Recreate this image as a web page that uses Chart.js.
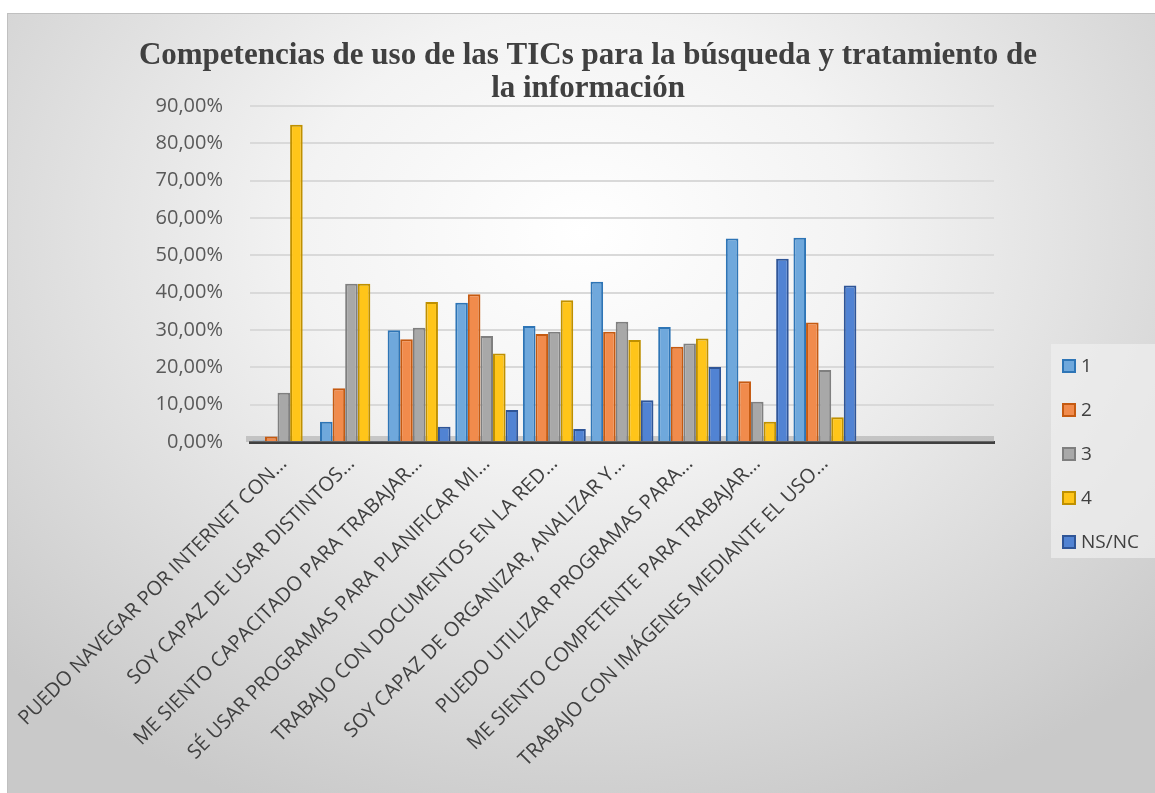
<!DOCTYPE html>
<html>
<head>
<meta charset="utf-8">
<script src="https://cdn.jsdelivr.net/npm/chart.js@4/dist/chart.umd.min.js"></script>
<style>
  html, body { margin: 0; padding: 0; background: #ffffff; width: 1155px; height: 793px; overflow: hidden; }
  #box {
    position: absolute; left: 7px; top: 13px; width: 1148px; height: 780px;
    border-left: 1px solid #c0c0c0; border-top: 1px solid #c0c0c0;
    background: radial-gradient(ellipse 70% 80% at 50% 28%, #ffffff 0%, #f3f3f3 35%, #d9d9d9 75%, #c9c9c9 100%);
  }
  canvas { position: absolute; left: 0; top: 0; }
</style>
</head>
<body>
<div id="box"><canvas id="c" width="1148" height="780"></canvas></div>
<script>
const titleLines = ["Competencias de uso de las TICs para la búsqueda y tratamiento de", "la información"];
const categories = [
  "PUEDO NAVEGAR POR INTERNET CON…",
  "SOY CAPAZ DE USAR DISTINTOS…",
  "ME SIENTO CAPACITADO PARA TRABAJAR…",
  "SÉ USAR PROGRAMAS PARA PLANIFICAR MI…",
  "TRABAJO CON DOCUMENTOS EN LA RED…",
  "SOY CAPAZ DE ORGANIZAR, ANALIZAR Y…",
  "PUEDO UTILIZAR PROGRAMAS PARA…",
  "ME SIENTO COMPETENTE PARA TRABAJAR…",
  "TRABAJO CON IMÁGENES MEDIANTE EL USO…",
  "",
  ""
];
const seriesNames = ["1", "2", "3", "4", "NS/NC"];
const values1    = [0.4, 5.4, 29.9, 37.3, 31.1, 42.9, 30.8, 54.5, 54.7, null, null];
const values2    = [1.5, 14.4, 27.5, 39.6, 28.9, 29.5, 25.5, 16.3, 32.0, null, null];
const values3    = [13.2, 42.4, 30.6, 28.4, 29.5, 32.2, 26.4, 10.8, 19.3, null, null];
const values4    = [85.0, 42.4, 37.5, 23.7, 38.0, 27.3, 27.7, 5.4, 6.6, null, null];
const valuesNSNC = [0.2, 0.2, 4.1, 8.6, 3.5, 11.2, 20.1, 49.1, 41.9, null, null];
const yTicks = [0, 10, 20, 30, 40, 50, 60, 70, 80, 90];

const fills   = ["#6fa8dc", "#f18b4c", "#a8a8a8", "#ffc519", "#5183d3"];
const borders = ["#2e75b6", "#c55a11", "#7f7f7f", "#bf9000", "#2f5597"];
const allValues = [values1, values2, values3, values4, valuesNSNC];

const fmt = v => v.toFixed(2).replace('.', ',') + '%';

const floorPlugin = {
  id: 'floor',
  beforeDatasetsDraw(chart) {
    const ctx = chart.ctx, a = chart.chartArea, y0 = chart.scales.y.getPixelForValue(0);
    ctx.save();
    ctx.fillStyle = 'rgba(150,150,150,0.45)';
    ctx.fillRect(a.left - 4, y0 - 6, a.right - a.left + 4, 6);
    ctx.restore();
  }
};

const titlePlugin = {
  id: 'customTitle',
  afterDraw(chart) {
    const ctx = chart.ctx;
    ctx.save();
    ctx.fillStyle = '#404040';
    ctx.font = 'bold 31px "Liberation Serif", "Times New Roman", serif';
    ctx.textAlign = 'center';
    ctx.textBaseline = 'middle';
    titleLines.forEach((t, i) => ctx.fillText(t, 580, 42 + i * 33));
    ctx.restore();
  }
};

const legendPlugin = {
  id: 'customLegend',
  afterDraw(chart) {
    const ctx = chart.ctx;
    ctx.save();
    ctx.fillStyle = 'rgba(240,240,240,0.7)';
    ctx.fillRect(1043, 330, 105, 214);
    chart.data.datasets.forEach((ds, i) => {
      const cy = 352 + i * 44;
      ctx.fillStyle = ds.backgroundColor;
      ctx.fillRect(1055, cy - 6, 12, 12);
      ctx.strokeStyle = ds.borderColor;
      ctx.lineWidth = 2;
      ctx.strokeRect(1055, cy - 6, 12, 12);
      ctx.fillStyle = '#404040';
      ctx.font = '19px "Open Sans"';
      ctx.textBaseline = 'middle';
      ctx.textAlign = 'left';
      ctx.fillText(ds.label, 1073, cy + 1);
    });
    ctx.restore();
  }
};

new Chart(document.getElementById('c'), {
  type: 'bar',
  data: {
    labels: categories,
    datasets: seriesNames.map((n, i) => ({
      label: n,
      data: allValues[i],
      backgroundColor: fills[i],
      borderColor: borders[i],
      borderWidth: 2,
      borderSkipped: 'bottom',
      categoryPercentage: 0.93,
      barPercentage: 1.0
    }))
  },
  options: {
    responsive: false,
    animation: false,
    devicePixelRatio: 1,
    layout: { autoPadding: false, padding: { left: 0, right: 162, top: 92, bottom: 0 } },
    plugins: {
      legend: { display: false },
      tooltip: { enabled: false },
      title: { display: false }
    },
    scales: {
      x: {
        grid: { display: false },
        border: { display: true, color: '#404040', width: 3 },
        ticks: {
          autoSkip: false, minRotation: 45, maxRotation: 45, padding: 2,
          color: '#404040', font: { family: '"Open Sans"', size: 20 }
        },
        afterFit(scale) { scale.height = 352; }
      },
      y: {
        min: 0, max: 90,
        afterBuildTicks(scale) { scale.ticks = yTicks.map(v => ({ value: v })); },
        grid: { color: '#d9d9d9', lineWidth: 2, drawTicks: false },
        border: { display: false },
        ticks: {
          padding: 27, color: '#595959', font: { family: '"Open Sans"', size: 20 },
          callback: v => fmt(v)
        },
        afterFit(scale) { scale.width = 242; }
      }
    }
  },
  plugins: [floorPlugin, titlePlugin, legendPlugin]
});
</script>
</body>
</html>
